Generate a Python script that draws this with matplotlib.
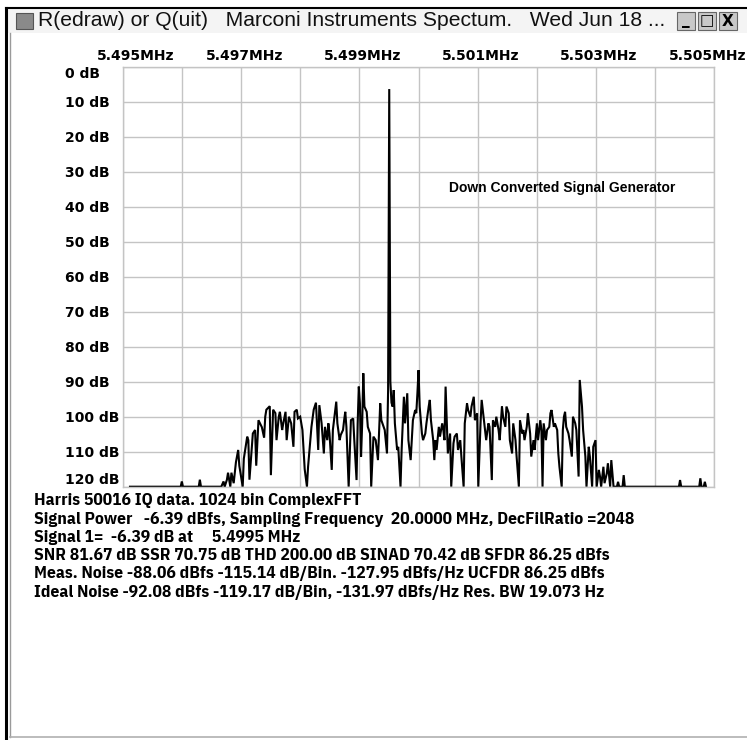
import matplotlib
matplotlib.use("Agg")
import matplotlib.pyplot as plt
import matplotlib.patches as mpatches
import matplotlib.lines as mlines
from matplotlib.transforms import ScaledTranslation
import numpy as np

# ---------------- data ----------------
f_start_mhz = 5.495118          # first FFT bin shown
res_bw_hz = 19.073              # resolution bandwidth (bin spacing)

bins = [0, 45, 46, 47, 61, 62, 63, 81, 83, 84, 86, 87, 89, 90, 92, 94, 96, 97, 100, 101,
        104, 105, 106, 109, 111, 112, 114, 117, 119, 120, 121, 124, 125, 127, 129, 130, 132, 133, 135, 136,
        138, 139, 141, 143, 145, 146, 148, 149, 151, 153, 155, 157, 158, 160, 161, 163, 165, 167, 168, 170,
        172, 173, 175, 176, 177, 179, 180, 183, 184, 186, 187, 189, 190, 191, 192, 194, 195, 196, 198, 199,
        201, 202, 203, 204, 205, 206, 207, 208, 210, 211, 213, 214, 216, 218, 220, 222, 223, 225, 226, 228,
        229, 230, 231, 232, 233, 234, 235, 237, 238, 240, 241, 243, 244, 246, 247, 249, 250, 251, 253, 254,
        255, 256, 257, 259, 260, 262, 263, 265, 266, 267, 269, 270, 271, 272, 274, 275, 277, 278, 279, 280,
        282, 283, 284, 285, 287, 288, 290, 291, 293, 294, 296, 297, 299, 300, 302, 303, 305, 306, 308, 309,
        311, 312, 314, 315, 316, 318, 319, 321, 322, 324, 325, 327, 328, 330, 331, 333, 334, 336, 337, 339,
        340, 342, 343, 345, 346, 348, 349, 350, 352, 353, 355, 356, 358, 359, 361, 362, 364, 365, 366, 367,
        369, 370, 372, 373, 374, 376, 377, 379, 380, 381, 383, 384, 385, 386, 387, 389, 390, 392, 393, 395,
        396, 398, 399, 401, 402, 404, 405, 407, 408, 410, 411, 413, 414, 416, 417, 418, 420, 421, 423, 424,
        426, 427, 429, 432, 433, 434, 437, 438, 439, 487, 488, 489, 505, 506, 507, 509, 510, 511]

level_db = [120, 120, 118.5, 120, 120, 118, 120, 120, 118.5, 120, 118, 116, 120, 116, 119, 113, 109.5, 114, 120, 112,
            105.7, 106.7, 118, 104.8, 103.8, 114, 101, 103, 106, 100, 98, 97, 116.7, 98, 99, 106.7, 100, 98.6, 103.8, 101.9,
            98.6, 106.7, 100, 101.9, 108.6, 98.6, 98, 100.5, 100, 103.8, 115, 120, 114.3, 106.7, 102.9, 98, 96, 109.5, 96.7, 101.9,
            110.5, 102.9, 106.7, 101.9, 104.8, 115.2, 103.8, 95.7, 101.9, 106.7, 105.2, 103.8, 101, 98.6, 102.9, 120, 110.5, 101, 100.5, 106.7,
            118.1, 101.9, 91.4, 96.2, 111.4, 101.9, 87.6, 97.1, 98.6, 102.9, 104.8, 120, 105.7, 106.7, 112.4, 96.2, 101, 102.9, 103.8, 110.5,
            92.4, 6.39, 90, 96, 97.1, 92.4, 101.9, 109.5, 108.6, 120, 109.5, 94.3, 101.9, 93.3, 106.7, 112.4, 106.7, 101, 98.1, 99,
            93.3, 86.7, 97.1, 104.8, 106.7, 104.8, 101.9, 97.1, 95.2, 101, 106.7, 112.4, 106.7, 109.5, 102.9, 105.7, 101.9, 103.8, 106.7, 91.4,
            110.5, 107.6, 104.8, 120, 107.6, 105.7, 104.8, 109.5, 106.7, 111.4, 120, 101.9, 96.2, 98.1, 100, 97.1, 94.3, 101, 99, 120,
            101.9, 95.2, 101, 103.8, 106.7, 101.9, 102.9, 118.1, 101, 102.9, 100, 103.8, 106.7, 97.1, 100, 102.9, 97.1, 99, 106.7, 110.5,
            101.9, 106.7, 111.4, 120, 101, 104.8, 103.8, 106.7, 102.9, 99, 104.8, 111.4, 106.7, 109.5, 101.9, 106.7, 101, 103.8, 120, 101.9,
            106.7, 103.8, 102.9, 99, 98.1, 102.9, 101.9, 103.8, 110.5, 114.3, 120, 103.8, 100, 98.6, 102.9, 104.8, 106.7, 111.4, 100, 101.9,
            103.8, 117.1, 89.5, 97.1, 103.8, 111.4, 120, 108.6, 111.4, 120, 108.6, 106.7, 120, 115.2, 117.1, 120, 114.3, 119, 116.2, 113.3,
            120, 112.4, 120, 120, 118.6, 120, 120, 116.7, 120, 120, 118.1, 120, 120, 117.6, 120, 120, 118.6, 120]

freq_ticks = [5.495, 5.497, 5.499, 5.501, 5.503, 5.505]
freq_labels = ["5.495MHz", "5.497MHz", "5.499MHz", "5.501MHz", "5.503MHz", "5.505MHz"]
db_ticks = [0, 10, 20, 30, 40, 50, 60, 70, 80, 90, 100, 110, 120]
db_labels = [f"{v} dB" for v in db_ticks]

window_title = "R(edraw) or Q(uit)   Marconi Instruments Spectum.   Wed Jun 18 ..."
annotation = "Down Converted Signal Generator"
info_lines = [
    "Harris 50016 IQ data. 1024 bin ComplexFFT",
    "Signal Power   -6.39 dBfs, Sampling Frequency  20.0000 MHz, DecFilRatio =2048",
    "Signal 1=  -6.39 dB at     5.4995 MHz",
    "SNR 81.67 dB SSR 70.75 dB THD 200.00 dB SINAD 70.42 dB SFDR 86.25 dBfs",
    "Meas. Noise -88.06 dBfs -115.14 dB/Bin. -127.95 dBfs/Hz UCFDR 86.25 dBfs",
    "Ideal Noise -92.08 dBfs -119.17 dB/Bin, -131.97 dBfs/Hz Res. BW 19.073 Hz",
]

# ---------------- figure ----------------
W, H = 747, 740
fig = plt.figure(figsize=(W / 100, H / 100), dpi=100)
fig.patch.set_facecolor("white")

def fx(px):
    return px / W

def fy(py):
    return 1 - py / H

TITLE_FONT = ["Liberation Sans", "DejaVu Sans"]
INFO_FONT = ["IBM Plex Sans Condensed", "DejaVu Sans"]
LABEL_FONT = ["DejaVu Sans"]

# window frame
fig.add_artist(mlines.Line2D([fx(6), fx(6)], [fy(8), fy(739)], color="black", lw=2.2))
fig.add_artist(mlines.Line2D([fx(9.5), fx(9.5)], [fy(33), fy(737)], color="#9a9a9a", lw=1.0))
fig.add_artist(mlines.Line2D([fx(6), fx(747)], [fy(8), fy(8)], color="black", lw=1.5))
fig.add_artist(mlines.Line2D([fx(9.5), fx(747)], [fy(737), fy(737)], color="#b0b0b0", lw=1.2))
# title bar
fig.add_artist(mpatches.Rectangle((fx(7), fy(33)), fx(747) - fx(7), fy(9) - fy(33),
                                  facecolor="#f4f4f4", edgecolor="none"))
fig.add_artist(mpatches.Rectangle((fx(16), fy(29)), fx(17), fy(13) - fy(29),
                                  facecolor="#8a8a8a", edgecolor="#555555", lw=0.8))
fig.text(fx(38), fy(21), window_title, family=TITLE_FONT, fontsize=15.2,
         ha="left", va="center", color="#111111")
for i, sym in enumerate(["_", "\u25a1", "X"]):
    x0 = 677 + i * 21
    fig.add_artist(mpatches.Rectangle((fx(x0), fy(30)), fx(18), fy(12) - fy(30),
                                      facecolor="#c8c8c8", edgecolor="#666666", lw=0.8))
    fig.text(fx(x0 + 9), fy(21), sym, fontsize=11, ha="center", va="center",
             fontweight="bold", color="black", family=LABEL_FONT)

# spectrum axes
ax = fig.add_axes([fx(123), fy(486.7), fx(591), (486.7 - 66.7) / H])
freqs = [f_start_mhz + b * res_bw_hz * 1e-6 for b in bins]
ax.plot(freqs, level_db, color="black", lw=1.5, solid_joinstyle="miter")
ax.set_xlim(5.495, 5.505)
ax.set_ylim(120, 0)
ax.set_xticks(np.arange(5.495, 5.5051, 0.001), minor=True)
ax.set_xticks(freq_ticks)
ax.set_xticklabels(freq_labels)
ax.set_yticks(db_ticks)
ax.set_yticklabels(db_labels)
ax.grid(True, which="both", color="#c4c4c4", lw=1.0)
ax.set_axisbelow(True)
for s in ax.spines.values():
    s.set_color("#c4c4c4")
    s.set_linewidth(1.0)
ax.xaxis.tick_top()
ax.tick_params(axis="x", which="both", length=0, pad=3)
ax.tick_params(axis="y", length=0, pad=41.8)
for lab in ax.get_xticklabels() + ax.get_yticklabels():
    lab.set_fontweight("bold")
    lab.set_fontsize(10)
    lab.set_family(LABEL_FONT)
for lab in ax.get_yticklabels():
    lab.set_horizontalalignment("left")
yl = ax.get_yticklabels()
yl[0].set_verticalalignment("top")
yl[-1].set_verticalalignment("bottom")
# nudge outermost frequency labels as in the original program's layout
xt = ax.xaxis.get_major_ticks()
xt[0].label2.set_transform(xt[0].label2.get_transform() + ScaledTranslation(0.13, 0, fig.dpi_scale_trans))
xt[-1].label2.set_transform(xt[-1].label2.get_transform() + ScaledTranslation(-0.06, 0, fig.dpi_scale_trans))
for t in xt[1:-1]:
    t.label2.set_transform(t.label2.get_transform() + ScaledTranslation(0.03, 0, fig.dpi_scale_trans))

ax.text(5.50243, 34.7, annotation, ha="center", va="center", fontsize=10,
        fontweight="bold", family=["Liberation Sans", "DejaVu Sans"])

# info text block
for i, line in enumerate(info_lines):
    fig.text(fx(34), fy(501 + i * 18.2), line, family=INFO_FONT, fontweight="bold",
             fontsize=12.6, ha="left", va="center", color="black")

fig.savefig("out.png", dpi=100, facecolor="white")
